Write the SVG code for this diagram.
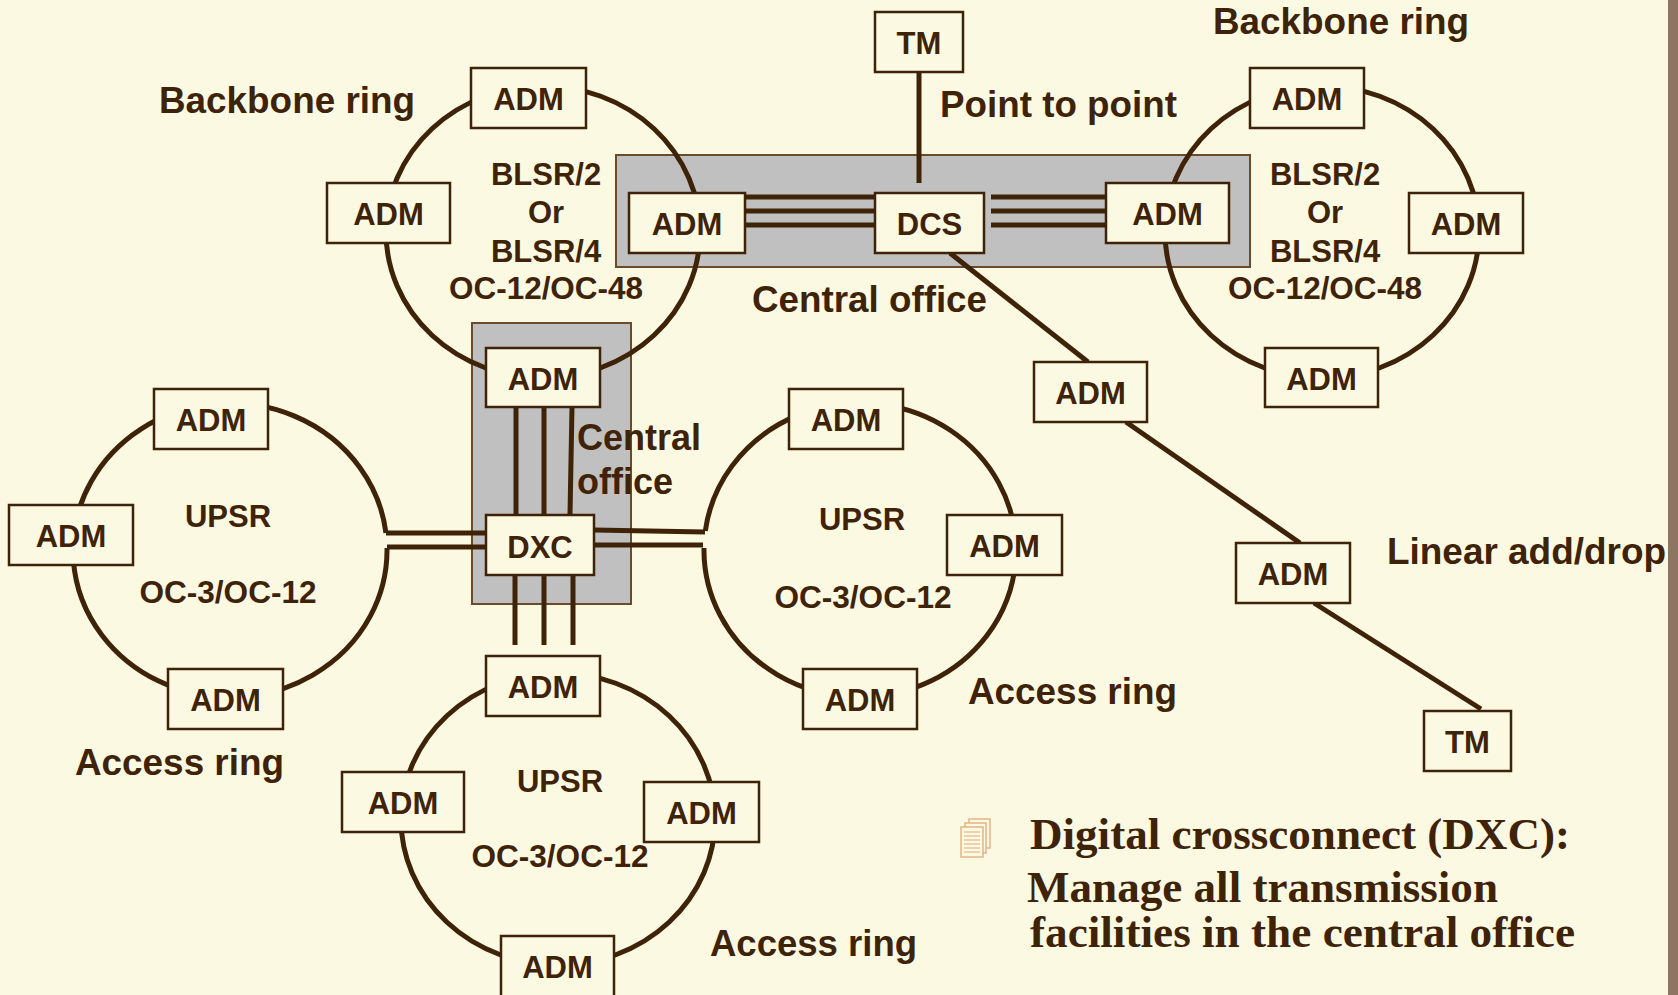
<svg xmlns="http://www.w3.org/2000/svg" width="1678" height="995" viewBox="0 0 1678 995">
  <style>
    .bx { fill: #FBF9E2; stroke: #3F2308; stroke-width: 2.5; }
    .ring { fill: none; stroke: #3F2308; stroke-width: 5; }
    .ln { fill: none; stroke: #3F2308; stroke-width: 5; stroke-linecap: butt; }
    .co { fill: #C0C0C0; stroke: #6B4B2B; stroke-width: 2; }
    .lb { font-family: "Liberation Sans", Arial, sans-serif; font-weight: bold; fill: #3F2308; font-size: 31px; }
    .nd { text-anchor: middle; }
    .big { font-size: 36px; }
    .tt { font-family: "Liberation Serif", "Times New Roman", serif; font-weight: bold; fill: #3F2308; font-size: 45px; }
    .ic { fill: #FBF9E2; stroke: #E0AA78; stroke-width: 1.3; }
  </style>

  <!-- page background and right edge band -->
  <rect x="0" y="0" width="1678" height="995" fill="#FBF9E2"/>
  <rect x="1668" y="0" width="10" height="995" fill="#8D7661"/>

  <!-- central office enclosures -->
  <g id="central-office-dcs"><rect class="co" x="616" y="155" width="634" height="112"/></g>
  <g id="central-office-dxc"><rect class="co" x="472" y="323" width="159" height="281"/></g>

  <!-- rings -->
  <g id="rings">
    <ellipse class="ring" cx="543" cy="232" rx="157" ry="146"/>
    <ellipse class="ring" cx="1322" cy="232" rx="157" ry="146"/>
    <path class="ring" d="M 385.95 533 A 157 147 0 1 0 387 548"/>
    <path class="ring" d="M 705.3 531 A 156 147 0 1 1 704 548"/>
    <ellipse class="ring" cx="558" cy="819" rx="157" ry="146"/>
  </g>

  <!-- connectors -->
  <g id="connectors">
    <!-- ADM to DCS, DCS to ADM (three fibres each) -->
    <path class="ln" d="M745 197H875 M745 211H875 M745 225H875"/>
    <path class="ln" d="M991 197H1106 M991 211H1106 M991 225H1106"/>
    <!-- point to point TM -->
    <path class="ln" d="M919 72V183"/>
    <!-- linear add/drop chain -->
    <path class="ln" d="M950 253L1088 362"/>
    <path class="ln" d="M1126 422L1300 543"/>
    <path class="ln" d="M1314 603L1481 709"/>
    <!-- backbone ADM to DXC -->
    <path class="ln" d="M516 407V515 M544 407V515 M572 407L570 515"/>
    <!-- DXC to lower access ring -->
    <path class="ln" d="M515 575V645 M544 575V645 M573 575V645"/>
    <!-- DXC to left access ring -->
    <path class="ln" d="M386 533H486 M387 547H486"/>
    <!-- DXC to right access ring -->
    <path class="ln" d="M594 530L705 532 M592 545H703"/>
  </g>

  <!-- nodes -->
  <g id="tm-top"><rect class="bx" x="875" y="12" width="88" height="60"/><text class="lb nd" x="919" y="54">TM</text></g>
  <g id="dcs"><rect class="bx" x="875" y="193" width="109" height="60"/><text class="lb nd" x="929.5" y="235">DCS</text></g>

  <g id="adm-bb1-top"><rect class="bx" x="471" y="68" width="115" height="60"/><text class="lb nd" x="528.5" y="110">ADM</text></g>
  <g id="adm-bb1-left"><rect class="bx" x="327" y="183" width="123" height="60"/><text class="lb nd" x="388.5" y="225">ADM</text></g>
  <g id="adm-bb1-right"><rect class="bx" x="629" y="193" width="116" height="60"/><text class="lb nd" x="687" y="235">ADM</text></g>
  <g id="adm-bb1-bottom"><rect class="bx" x="486" y="348" width="114" height="59"/><text class="lb nd" x="543" y="390">ADM</text></g>

  <g id="adm-bb2-top"><rect class="bx" x="1250" y="68" width="114" height="60"/><text class="lb nd" x="1307" y="110">ADM</text></g>
  <g id="adm-bb2-left"><rect class="bx" x="1106" y="183" width="123" height="60"/><text class="lb nd" x="1167.5" y="225">ADM</text></g>
  <g id="adm-bb2-right"><rect class="bx" x="1409" y="193" width="114" height="60"/><text class="lb nd" x="1466" y="235">ADM</text></g>
  <g id="adm-bb2-bottom"><rect class="bx" x="1265" y="348" width="113" height="59"/><text class="lb nd" x="1321.5" y="390">ADM</text></g>

  <g id="adm-lin-1"><rect class="bx" x="1034" y="362" width="113" height="60"/><text class="lb nd" x="1090.5" y="404">ADM</text></g>
  <g id="adm-lin-2"><rect class="bx" x="1236" y="543" width="114" height="60"/><text class="lb nd" x="1293" y="585">ADM</text></g>
  <g id="tm-lin"><rect class="bx" x="1424" y="711" width="87" height="60"/><text class="lb nd" x="1467.5" y="753">TM</text></g>

  <g id="dxc"><rect class="bx" x="486" y="515" width="108" height="60"/><text class="lb nd" x="540" y="558">DXC</text></g>

  <g id="adm-acc1-top"><rect class="bx" x="154" y="389" width="114" height="60"/><text class="lb nd" x="211" y="431">ADM</text></g>
  <g id="adm-acc1-left"><rect class="bx" x="9" y="505" width="124" height="60"/><text class="lb nd" x="71" y="547">ADM</text></g>
  <g id="adm-acc1-bottom"><rect class="bx" x="168" y="669" width="115" height="60"/><text class="lb nd" x="225.5" y="711">ADM</text></g>

  <g id="adm-acc2-top"><rect class="bx" x="789" y="389" width="114" height="60"/><text class="lb nd" x="846" y="431">ADM</text></g>
  <g id="adm-acc2-right"><rect class="bx" x="947" y="515" width="115" height="60"/><text class="lb nd" x="1004.5" y="557">ADM</text></g>
  <g id="adm-acc2-bottom"><rect class="bx" x="803" y="669" width="114" height="60"/><text class="lb nd" x="860" y="711">ADM</text></g>

  <g id="adm-acc3-top"><rect class="bx" x="486" y="656" width="114" height="60"/><text class="lb nd" x="543" y="698">ADM</text></g>
  <g id="adm-acc3-left"><rect class="bx" x="342" y="772" width="122" height="60"/><text class="lb nd" x="403" y="814">ADM</text></g>
  <g id="adm-acc3-right"><rect class="bx" x="644" y="782" width="115" height="60"/><text class="lb nd" x="701.5" y="824">ADM</text></g>
  <g id="adm-acc3-bottom"><rect class="bx" x="501" y="936" width="113" height="62"/><text class="lb nd" x="557.5" y="978">ADM</text></g>

  <!-- ring and area labels -->
  <g id="labels">
    <text class="lb big" x="159" y="113" textLength="256" lengthAdjust="spacingAndGlyphs">Backbone ring</text>
    <text class="lb big" x="1213" y="34" textLength="256" lengthAdjust="spacingAndGlyphs">Backbone ring</text>
    <text class="lb big" x="940" y="117" textLength="237" lengthAdjust="spacingAndGlyphs">Point to point</text>
    <text class="lb big" x="752" y="312" textLength="235" lengthAdjust="spacingAndGlyphs">Central office</text>
    <text class="lb big" x="577" y="450">Central</text>
    <text class="lb big" x="577" y="494">office</text>
    <text class="lb big" x="1387" y="564" textLength="279" lengthAdjust="spacingAndGlyphs">Linear add/drop</text>
    <text class="lb big" x="75" y="775" textLength="209" lengthAdjust="spacingAndGlyphs">Access ring</text>
    <text class="lb big" x="968" y="704" textLength="209" lengthAdjust="spacingAndGlyphs">Access ring</text>
    <text class="lb big" x="710" y="956" textLength="207" lengthAdjust="spacingAndGlyphs">Access ring</text>

    <text class="lb nd" x="546" y="185">BLSR/2</text>
    <text class="lb nd" x="546" y="223">Or</text>
    <text class="lb nd" x="546" y="262">BLSR/4</text>
    <text class="lb nd" x="546" y="299" textLength="194" lengthAdjust="spacingAndGlyphs">OC-12/OC-48</text>

    <text class="lb nd" x="1325" y="185">BLSR/2</text>
    <text class="lb nd" x="1325" y="223">Or</text>
    <text class="lb nd" x="1325" y="262">BLSR/4</text>
    <text class="lb nd" x="1325" y="299" textLength="194" lengthAdjust="spacingAndGlyphs">OC-12/OC-48</text>

    <text class="lb nd" x="228" y="527">UPSR</text>
    <text class="lb nd" x="228" y="603" textLength="177" lengthAdjust="spacingAndGlyphs">OC-3/OC-12</text>
    <text class="lb nd" x="862" y="530">UPSR</text>
    <text class="lb nd" x="863" y="608" textLength="177" lengthAdjust="spacingAndGlyphs">OC-3/OC-12</text>
    <text class="lb nd" x="560" y="792">UPSR</text>
    <text class="lb nd" x="560" y="867" textLength="177" lengthAdjust="spacingAndGlyphs">OC-3/OC-12</text>
  </g>

  <!-- bullet note -->
  <g id="note">
    <g id="note-icon">
      <rect class="ic" x="969" y="819" width="21" height="29"/>
      <rect class="ic" x="965" y="823" width="21" height="30"/>
      <rect class="ic" x="961" y="827" width="22" height="30"/>
      <path d="M964 832H980 M964 836H980 M964 840H980 M964 844H980 M964 848H980 M964 852H980" stroke="#E0AA78" stroke-width="1.2"/>
    </g>
    <text class="tt" x="1030" y="849" textLength="540" lengthAdjust="spacingAndGlyphs">Digital crossconnect (DXC):</text>
    <text class="tt" x="1027" y="902" textLength="471" lengthAdjust="spacingAndGlyphs">Manage all transmission</text>
    <text class="tt" x="1030" y="947" textLength="545" lengthAdjust="spacingAndGlyphs">facilities in the central office</text>
  </g>
</svg>
